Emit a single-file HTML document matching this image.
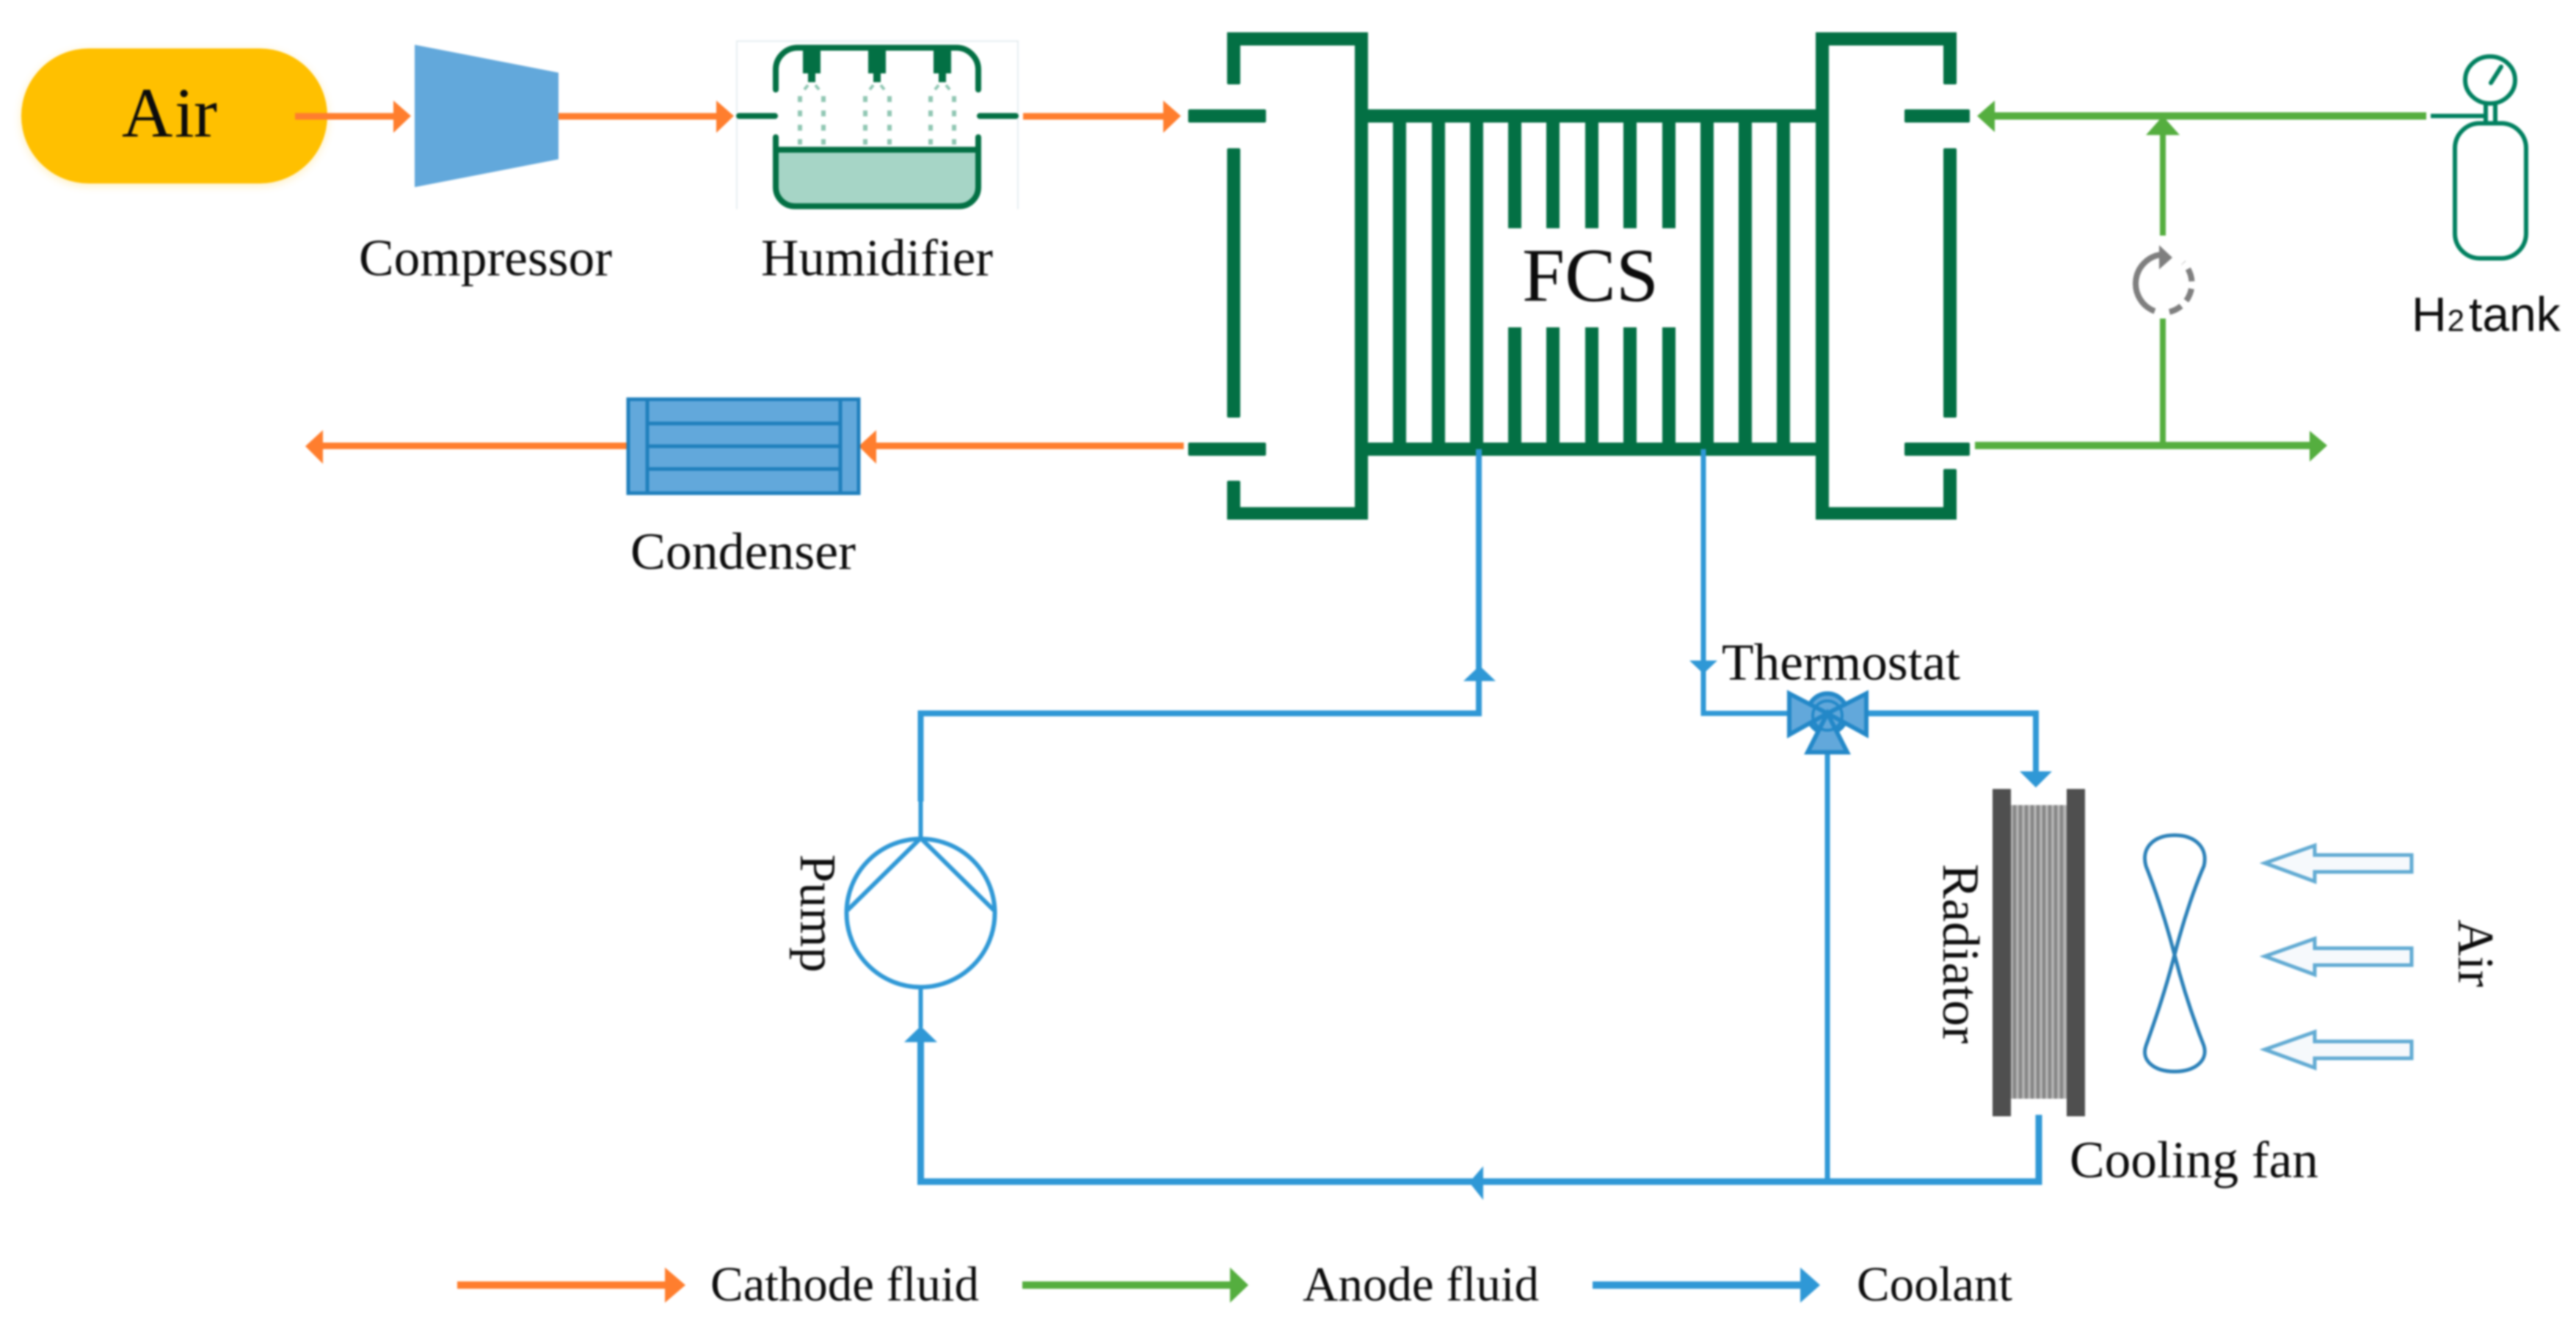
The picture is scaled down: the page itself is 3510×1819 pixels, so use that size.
<!DOCTYPE html>
<html><head><meta charset="utf-8"><style>
html,body{margin:0;padding:0;background:#fff;width:3510px;height:1819px;overflow:hidden}
svg{display:block;filter:blur(1.3px)}
text{font-family:"Liberation Serif",serif;fill:#0c0c0c}
</style></head><body>
<svg xmlns="http://www.w3.org/2000/svg" width="3510" height="1819" viewBox="0 0 3510 1819">
<defs><filter id="g" x="-10%" y="-20%" width="120%" height="140%"><feGaussianBlur stdDeviation="6"/></filter></defs>
<rect width="3510" height="1819" fill="#fff"/>

<!-- Air pill -->
<rect x="29" y="69" width="417" height="184" rx="92" fill="#FFC000" opacity=".25" filter="url(#g)"/>
<rect x="29" y="66" width="417" height="184" rx="92" fill="#FFC000"/>
<text x="166 238 264" y="186" font-size="96">Air</text>

<!-- Orange -->
<g fill="#FF7E2E">
<rect x="402" y="154" width="136" height="9"/><polygon points="536,137 560,158 536,181"/>
<rect x="761" y="154" width="217" height="9"/><polygon points="976,137 1000,158 976,181"/>
<rect x="1394" y="154" width="193" height="9"/><polygon points="1585,137 1609,158 1585,181"/>
<rect x="1192" y="603" width="421" height="9"/><polygon points="1194,586 1170,608 1194,632"/>
<rect x="438" y="603" width="420" height="9"/><polygon points="440,586 416,608 440,632"/>
<rect x="623" y="1746" width="285" height="10"/><polygon points="906,1727 934,1751 906,1775"/>
</g>

<!-- Compressor -->
<polygon points="565,61 761,99 761,217 565,255" fill="#62A8DB"/>

<!-- Humidifier -->
<path d="M1004 285V56H1387V285" fill="none" stroke="#e6edf0" stroke-width="2"/>
<path d="M1057 204H1333V255A26 26 0 0 1 1307 281H1083A26 26 0 0 1 1057 255Z" fill="#A6D5C6"/>
<g fill="none" stroke="#037044" stroke-width="8" stroke-linecap="round">
<path d="M1057 122V95A30 30 0 0 1 1087 65H1303A30 30 0 0 1 1333 95V122"/>
<path d="M1057 187V255A26 26 0 0 0 1083 281H1307A26 26 0 0 0 1333 255V187"/>
<path d="M1057 204H1333"/>
<path d="M1007 158H1056M1335 158H1384"/>
</g>
<g fill="#037044">
<rect x="1094" y="65" width="24" height="35"/><rect x="1101" y="98" width="10" height="14"/>
<rect x="1183" y="65" width="24" height="35"/><rect x="1190" y="98" width="10" height="14"/>
<rect x="1272" y="65" width="24" height="35"/><rect x="1279" y="98" width="10" height="14"/>
</g>
<g fill="none" stroke="#8fc6b2" stroke-width="6" stroke-dasharray="8 11.5">
<path d="M1090 131V197M1122 131V197M1179 131V197M1212 131V197M1268 131V197M1300 131V197"/>
</g>
<g fill="none" stroke="#8fc6b2" stroke-width="4">
<path d="M1096 122L1101 116M1111 116L1116 122M1185 122L1190 116M1200 116L1205 122M1274 122L1279 116M1289 116L1294 122"/>
</g>

<!-- Condenser -->
<rect x="856" y="544" width="314" height="128" fill="#62A8DB" stroke="#1F7FBC" stroke-width="5"/>
<path d="M882 544V672M1145 544V672M882 577H1145M882 608H1145M882 639H1145" stroke="#1F7FBC" stroke-width="5" fill="none"/>

<!-- Stack -->
<g fill="#037044">
<!-- left manifold -->
<rect x="1672" y="44" width="192" height="18"/>
<rect x="1672" y="44" width="18" height="71" rx="2"/>
<rect x="1672" y="202" width="18" height="367" rx="2"/>
<rect x="1672" y="655" width="18" height="53" rx="2"/>
<rect x="1672" y="691" width="192" height="17"/>
<rect x="1846" y="44" width="18" height="664"/>
<rect x="1619" y="149" width="106" height="18" rx="2"/>
<rect x="1619" y="603" width="106" height="18" rx="2"/>
<!-- right manifold -->
<rect x="2474" y="44" width="192" height="18"/>
<rect x="2648" y="44" width="18" height="71" rx="2"/>
<rect x="2648" y="202" width="18" height="367" rx="2"/>
<rect x="2648" y="639" width="18" height="69" rx="2"/>
<rect x="2474" y="691" width="192" height="17"/>
<rect x="2474" y="44" width="18" height="664"/>
<rect x="2595" y="149" width="89" height="18" rx="2"/>
<rect x="2595" y="603" width="89" height="18" rx="2"/>
<!-- bars -->
<rect x="1846" y="149" width="646" height="18"/>
<rect x="1846" y="603" width="646" height="18"/>
<!-- fins -->
<rect x="1898" y="160" width="18" height="450"/>
<rect x="1951" y="160" width="18" height="450"/>
<rect x="2003" y="160" width="18" height="450"/>
<rect x="2317" y="160" width="18" height="450"/>
<rect x="2369" y="160" width="18" height="450"/>
<rect x="2421" y="160" width="18" height="450"/>
<rect x="2055" y="160" width="18" height="151"/><rect x="2055" y="446" width="18" height="164"/>
<rect x="2107" y="160" width="18" height="151"/><rect x="2107" y="446" width="18" height="164"/>
<rect x="2160" y="160" width="18" height="151"/><rect x="2160" y="446" width="18" height="164"/>
<rect x="2212" y="160" width="18" height="151"/><rect x="2212" y="446" width="18" height="164"/>
<rect x="2265" y="160" width="18" height="151"/><rect x="2265" y="446" width="18" height="164"/>
</g>
<text x="2074" y="410" font-size="104" textLength="186" lengthAdjust="spacingAndGlyphs">FCS</text>

<!-- Green -->
<g fill="#55AE3F">
<rect x="2715" y="153" width="591" height="10"/><polygon points="2718,137 2694,158 2718,180"/>
<rect x="2943" y="182" width="8" height="139"/><polygon points="2947,158 2970,184 2924,184"/>
<rect x="2943" y="434" width="8" height="173"/>
<rect x="2691" y="602" width="458" height="10"/><polygon points="3147,587 3171,607 3147,629"/>
<rect x="1393" y="1746" width="285" height="10"/><polygon points="1676,1727 1701,1751 1676,1775"/>
</g>

<!-- Recirc -->
<g fill="none" stroke="#7f7f7f" stroke-width="8">
<path d="M2944 347A40 40 0 0 0 2936 424"/>
<path d="M2956 425A40 40 0 0 0 2975 358" stroke-dasharray="18 10"/>
</g>
<polygon points="2942,334 2960,351 2942,367" fill="#7f7f7f"/>

<!-- Tank -->
<g fill="none" stroke="#00805F" stroke-width="6">
<ellipse cx="3393" cy="109" rx="34" ry="32"/>
<rect x="3345" y="168" width="97" height="184" rx="34"/>
<path d="M3387 142V166M3400 142V166"/>
<path d="M3312 158H3386"/>
<path d="M3394 113L3408 91" stroke-linecap="round"/>
</g>
<text x="3286" y="451" style="font-family:'Liberation Sans',sans-serif" font-size="66">H<tspan font-size="42" dx="1">2</tspan><tspan dx="6" font-size="66">tank</tspan></text>

<!-- Coolant -->
<g fill="none" stroke="#2F98D6" stroke-linejoin="miter">
<path d="M2015 612V972H1254.5V1092" stroke-width="8"/>
<path d="M1254.5 1088V1140" stroke-width="6"/>
<path d="M2321 612V972H2440" stroke-width="7"/>
<path d="M2544 972H2774V1055" stroke-width="8"/>
<path d="M2490 1026V1610" stroke-width="7"/>
<path d="M2778 1519V1610H1254.5V1420" stroke-width="9"/>
<path d="M1254.5 1345V1400" stroke-width="6"/>
<circle cx="1254.5" cy="1244" r="101" stroke-width="6"/>
<path d="M1155 1240L1254.5 1142L1354 1240" stroke-width="6"/>
</g>
<g fill="#2F98D6">
<polygon points="2016,907 2038,928 1994,928"/>
<polygon points="1254.5,1398 1277,1420 1232,1420"/>
<polygon points="2321,918 2302,900 2340,900"/>
<polygon points="2774,1073 2752,1051 2796,1051"/>
<polygon points="2002,1611 2021,1589 2021,1635"/>
<rect x="2170" y="1746" width="285" height="10"/><polygon points="2453,1727 2480,1751 2453,1775"/>
</g>

<!-- Thermostat valve -->
<g fill="#62A8DB" stroke="#2388C8" stroke-width="6" stroke-linejoin="miter">
<circle cx="2490" cy="972" r="27"/>
<polygon points="2438,945 2490,972 2438,1001"/>
<polygon points="2543,945 2490,972 2543,1001"/>
<polygon points="2490,972 2517,1025 2463,1025"/>
<circle cx="2490" cy="975" r="20" fill="none" stroke-width="4"/>
</g>

<!-- Radiator -->
<g fill="#4f4f4f">
<rect x="2715" y="1075" width="25" height="446"/>
<rect x="2816" y="1075" width="25" height="446"/>
</g>
<rect x="2740" y="1097" width="76" height="400" fill="#b4b4b4"/>
<path d="M2745 1097V1497M2753 1097V1497M2761 1097V1497M2769 1097V1497M2777 1097V1497M2785 1097V1497M2793 1097V1497M2801 1097V1497M2809 1097V1497" stroke="#838383" stroke-width="4"/>

<!-- Fan -->
<path d="M2963 1301C2950 1250 2934 1205 2924 1180C2917 1155 2935 1138 2963 1138C2991 1138 3009 1155 3003 1180C2992 1205 2976 1250 2963 1301C2950 1352 2934 1397 2924 1425C2917 1445 2935 1460 2963 1460C2991 1460 3009 1445 3003 1425C2992 1397 2976 1352 2963 1301Z" fill="none" stroke="#2A80B8" stroke-width="5"/>

<!-- Air arrows -->
<g fill="#F6F9FC" stroke="#62ABD3" stroke-width="5">
<polygon points="3086,1176 3154,1152 3154,1165 3286,1165 3286,1188 3154,1188 3154,1201"/>
<polygon points="3086,1303 3154,1279 3154,1292 3286,1292 3286,1315 3154,1315 3154,1328"/>
<polygon points="3086,1430 3154,1406 3154,1419 3286,1419 3286,1442 3154,1442 3154,1455"/>
</g>

<!-- Labels -->
<text x="489" y="375" font-size="71" textLength="345" lengthAdjust="spacingAndGlyphs">Compressor</text>
<text x="1037" y="375" font-size="71" textLength="316" lengthAdjust="spacingAndGlyphs">Humidifier</text>
<text x="859" y="775" font-size="71" textLength="307" lengthAdjust="spacingAndGlyphs">Condenser</text>
<text x="2346" y="926" font-size="71" textLength="325" lengthAdjust="spacingAndGlyphs">Thermostat</text>
<text x="2820" y="1604" font-size="71" textLength="339" lengthAdjust="spacingAndGlyphs">Cooling fan</text>
<text transform="translate(2648 1177) rotate(90)" font-size="71" textLength="245" lengthAdjust="spacingAndGlyphs">Radiator</text>
<text transform="translate(3350 1253) rotate(90)" font-size="70" textLength="92" lengthAdjust="spacingAndGlyphs">Air</text>
<text transform="translate(1091 1164) rotate(90)" font-size="70" textLength="161" lengthAdjust="spacingAndGlyphs">Pump</text>
<text x="968" y="1772" font-size="67" textLength="366" lengthAdjust="spacingAndGlyphs">Cathode fluid</text>
<text x="1775" y="1772" font-size="67" textLength="322" lengthAdjust="spacingAndGlyphs">Anode fluid</text>
<text x="2530" y="1772" font-size="67" textLength="212" lengthAdjust="spacingAndGlyphs">Coolant</text>
</svg>
</body></html>
